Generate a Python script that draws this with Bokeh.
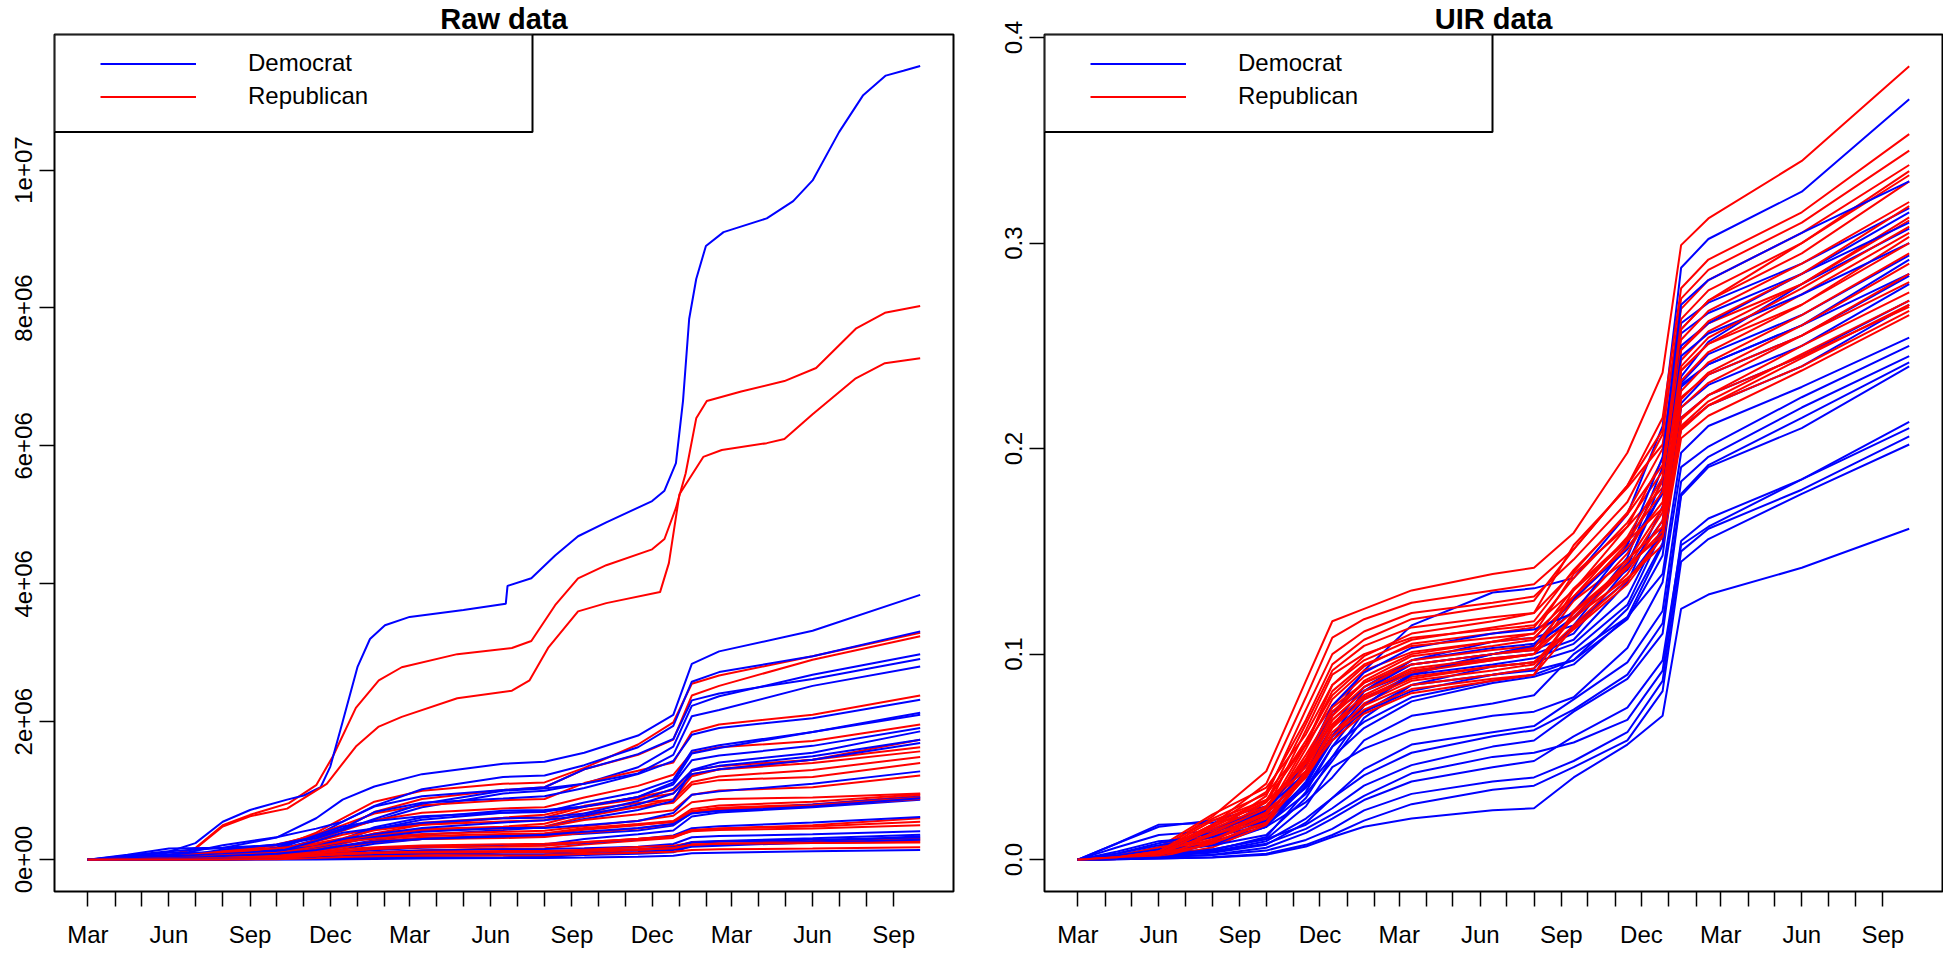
import numpy as np
import pandas as pd
from bokeh.plotting import figure
from bokeh.models import Range1d, FixedTicker, Legend, LegendItem, BoxAnnotation
from bokeh.layouts import row
from bokeh.embed import file_html
from bokeh.resources import INLINE

ORIGIN = "2020-03-01"
FONT = "Liberation Sans"
BLUE = "#0000FF"
RED = "#FF0000"

# ---------------- axis ticks ----------------
month_tick_dates = list(pd.date_range("2020-03-01", "2022-09-01", freq="MS").strftime("%Y-%m-%d"))
month_tick_labels = ["Mar", "", "", "Jun", "", "", "Sep", "", "", "Dec", "", "",
                     "Mar", "", "", "Jun", "", "", "Sep", "", "", "Dec", "", "",
                     "Mar", "", "", "Jun", "", "", "Sep"]
raw_y_ticks = [0, 2e6, 4e6, 6e6, 8e6, 1e7]
raw_y_labels = ["0e+00", "2e+06", "4e+06", "6e+06", "8e+06", "1e+07"]
uir_y_ticks = [0.0, 0.1, 0.2, 0.3, 0.4]
uir_y_labels = ["0.0", "0.1", "0.2", "0.3", "0.4"]

# common knot dates for most series
knot_dates = ["2020-03-01", "2020-04-15", "2020-06-01", "2020-08-01", "2020-10-01", "2020-11-15",
              "2020-12-15", "2021-01-20", "2021-03-15", "2021-06-15", "2021-08-01", "2021-09-15",
              "2021-11-15", "2021-12-25", "2022-01-15", "2022-02-15", "2022-06-01", "2022-10-01"]

# ---------------- Raw data (millions) ----------------
raw_dem_ca_dates = ["2020-03-01", "2020-04-15", "2020-06-01", "2020-07-01", "2020-08-01", "2020-09-01",
                    "2020-10-13", "2020-11-01", "2020-11-20", "2020-12-01", "2020-12-15", "2021-01-01",
                    "2021-01-15", "2021-02-01", "2021-03-01", "2021-05-01", "2021-06-18", "2021-06-20",
                    "2021-07-17", "2021-08-13", "2021-09-08", "2021-10-10", "2021-12-01", "2021-12-15",
                    "2021-12-28", "2022-01-05", "2022-01-12", "2022-01-20", "2022-01-31", "2022-02-20",
                    "2022-04-10", "2022-05-10", "2022-06-01", "2022-07-01", "2022-07-28", "2022-08-23",
                    "2022-09-12", "2022-10-01"]
raw_dem_ca = [0, 0.025, 0.115, 0.24, 0.55, 0.72, 0.87, 0.93, 1.05, 1.35, 2.0, 2.8, 3.2, 3.4, 3.52,
              3.62, 3.71, 3.97, 4.08, 4.41, 4.69, 4.89, 5.2, 5.35, 5.75, 6.65, 7.84, 8.42, 8.9, 9.1,
              9.3, 9.55, 9.85, 10.55, 11.08, 11.37, 11.44, 11.51]

raw_rep_tx_dates = ["2020-03-01", "2020-06-01", "2020-07-01", "2020-08-01", "2020-09-01", "2020-10-15",
                    "2020-11-15", "2020-12-04", "2020-12-30", "2021-01-25", "2021-02-20", "2021-04-24",
                    "2021-06-25", "2021-07-17", "2021-08-13", "2021-09-08", "2021-10-10", "2021-12-01",
                    "2021-12-15", "2021-12-28", "2022-01-08", "2022-01-20", "2022-02-01", "2022-03-12",
                    "2022-04-30", "2022-06-05", "2022-07-20", "2022-08-22", "2022-10-01"]
raw_rep_tx = [0, 0.065, 0.17, 0.5, 0.65, 0.82, 1.08, 1.5, 2.2, 2.6, 2.79, 2.98, 3.07, 3.17, 3.69,
              4.08, 4.27, 4.5, 4.65, 5.1, 5.6, 6.4, 6.65, 6.79, 6.94, 7.13, 7.7, 7.93, 8.03]

raw_rep_fl_dates = ["2020-03-01", "2020-06-01", "2020-07-01", "2020-08-01", "2020-09-01", "2020-10-13",
                    "2020-11-27", "2020-12-30", "2021-01-25", "2021-02-20", "2021-04-24", "2021-06-25",
                    "2021-07-15", "2021-08-05", "2021-09-08", "2021-10-10", "2021-12-10", "2021-12-20",
                    "2022-01-01", "2022-01-28", "2022-02-18", "2022-04-10", "2022-04-30", "2022-06-01",
                    "2022-07-20", "2022-08-22", "2022-10-01"]
raw_rep_fl = [0, 0.057, 0.16, 0.48, 0.63, 0.74, 1.1, 1.64, 1.93, 2.07, 2.34, 2.45, 2.6, 3.07, 3.6,
              3.72, 3.88, 4.3, 5.3, 5.84, 5.94, 6.04, 6.1, 6.46, 6.98, 7.2, 7.27]

raw_dem_il = [0, 0.06, 0.12, 0.17, 0.32, 0.60, 0.87, 1.06, 1.24, 1.39, 1.42, 1.55, 1.80, 2.10, 2.84, 3.02, 3.32, 3.84]
raw_dem_pa = [0, 0.038, 0.075, 0.104, 0.176, 0.35, 0.55, 0.78, 1.02, 1.2, 1.22, 1.37, 1.63, 1.94, 2.58, 2.72, 2.95, 3.31]
raw_dem_mi = [0, 0.03, 0.06, 0.083, 0.14, 0.29, 0.45, 0.56, 0.76, 0.96, 1.0, 1.1, 1.34, 1.64, 2.23, 2.37, 2.68, 2.98]
raw_dem_ga = [0, 0.015, 0.05, 0.21, 0.325, 0.45, 0.55, 0.77, 0.92, 1.01, 1.05, 1.31, 1.53, 1.75, 2.31, 2.41, 2.62, 2.91]
raw_dem_nj = [0, 0.07, 0.16, 0.174, 0.21, 0.31, 0.43, 0.59, 0.81, 1.0, 1.03, 1.1, 1.25, 1.52, 2.08, 2.17, 2.52, 2.80]
raw_dem_az = [0, 0.006, 0.02, 0.146, 0.22, 0.33, 0.45, 0.69, 0.825, 0.886, 0.92, 1.04, 1.24, 1.43, 1.81, 1.91, 2.05, 2.32]
raw_dem_va = [0, 0.014, 0.045, 0.079, 0.147, 0.22, 0.28, 0.44, 0.58, 0.68, 0.69, 0.83, 0.98, 1.16, 1.58, 1.66, 1.85, 2.13]
raw_dem_ma = [0, 0.05, 0.1, 0.109, 0.134, 0.21, 0.3, 0.47, 0.61, 0.71, 0.72, 0.77, 0.91, 1.12, 1.54, 1.62, 1.85, 2.10]
raw_dem_wi = [0, 0.005, 0.018, 0.046, 0.148, 0.355, 0.48, 0.56, 0.63, 0.68, 0.7, 0.765, 0.91, 1.09, 1.44, 1.51, 1.65, 1.91]
raw_dem_wa = [0, 0.01, 0.02, 0.045, 0.091, 0.146, 0.2, 0.28, 0.36, 0.43, 0.47, 0.59, 0.72, 0.85, 1.3, 1.41, 1.55, 1.86]
raw_dem_mn = [0, 0.006, 0.025, 0.048, 0.109, 0.27, 0.39, 0.45, 0.53, 0.6, 0.61, 0.67, 0.85, 1.03, 1.29, 1.36, 1.5, 1.74]
raw_dem_co = [0, 0.01, 0.026, 0.04, 0.081, 0.196, 0.3, 0.37, 0.46, 0.54, 0.57, 0.64, 0.8, 0.96, 1.24, 1.31, 1.45, 1.69]
raw_dem_md = [0, 0.02, 0.05, 0.083, 0.124, 0.184, 0.25, 0.33, 0.405, 0.46, 0.46, 0.5, 0.56, 0.675, 0.94, 0.99, 1.1, 1.28]
raw_dem_ct = [0, 0.02, 0.042, 0.047, 0.061, 0.102, 0.15, 0.23, 0.3, 0.35, 0.35, 0.376, 0.423, 0.495, 0.68, 0.715, 0.8, 0.91]
raw_dem_or = [0, 0.0015, 0.004, 0.016, 0.034, 0.066, 0.1, 0.136, 0.173, 0.203, 0.22, 0.3, 0.368, 0.423, 0.626, 0.685, 0.76, 0.87]
raw_dem_nv = [0, 0.004, 0.009, 0.052, 0.084, 0.14, 0.2, 0.258, 0.3, 0.335, 0.36, 0.405, 0.458, 0.516, 0.67, 0.704, 0.77, 0.89]
raw_dem_nm = [0, 0.003, 0.008, 0.017, 0.034, 0.079, 0.12, 0.16, 0.186, 0.2, 0.21, 0.243, 0.3, 0.351, 0.456, 0.484, 0.54, 0.62]
raw_dem_ri = [0, 0.006, 0.015, 0.018, 0.027, 0.048, 0.07, 0.106, 0.134, 0.15, 0.155, 0.165, 0.187, 0.227, 0.325, 0.342, 0.37, 0.41]
raw_dem_nh = [0, 0.002, 0.005, 0.006, 0.0088, 0.0186, 0.03, 0.055, 0.081, 0.1, 0.1, 0.113, 0.148, 0.185, 0.255, 0.272, 0.31, 0.36]
raw_dem_hi = [0, 0.0005, 0.0007, 0.002, 0.012, 0.017, 0.02, 0.024, 0.03, 0.036, 0.043, 0.067, 0.085, 0.108, 0.2, 0.222, 0.26, 0.34]
raw_dem_de = [0, 0.004, 0.01, 0.014, 0.02, 0.032, 0.045, 0.067, 0.091, 0.11, 0.11, 0.13, 0.151, 0.178, 0.248, 0.262, 0.29, 0.32]
raw_dem_me = [0, 0.001, 0.0025, 0.0035, 0.005, 0.011, 0.018, 0.034, 0.052, 0.068, 0.07, 0.083, 0.112, 0.139, 0.188, 0.203, 0.25, 0.29]
raw_dem_vt = [0, 0.0006, 0.001, 0.0013, 0.0018, 0.0036, 0.006, 0.011, 0.018, 0.024, 0.025, 0.031, 0.043, 0.058, 0.093, 0.101, 0.12, 0.14]

raw_rep_oh = [0, 0.012, 0.035, 0.078, 0.165, 0.39, 0.6, 0.84, 1.0, 1.1, 1.12, 1.33, 1.67, 1.99, 2.55, 2.67, 2.95, 3.29]
raw_rep_nc = [0, 0.009, 0.028, 0.127, 0.22, 0.35, 0.45, 0.69, 0.88, 1.01, 1.05, 1.31, 1.52, 1.74, 2.38, 2.52, 2.9, 3.24]
raw_rep_tn = [0, 0.008, 0.024, 0.112, 0.204, 0.37, 0.5, 0.67, 0.79, 0.863, 0.88, 1.11, 1.29, 1.41, 1.85, 1.96, 2.1, 2.38]
raw_rep_in = [0, 0.011, 0.034, 0.061, 0.129, 0.28, 0.42, 0.57, 0.68, 0.743, 0.76, 0.9, 1.07, 1.23, 1.55, 1.63, 1.72, 1.96]
raw_rep_ky = [0, 0.003, 0.01, 0.03, 0.075, 0.158, 0.23, 0.34, 0.416, 0.463, 0.48, 0.623, 0.766, 0.874, 1.21, 1.31, 1.45, 1.74]
raw_rep_mo = [0, 0.004, 0.013, 0.055, 0.14, 0.264, 0.36, 0.446, 0.534, 0.608, 0.65, 0.78, 0.905, 1.01, 1.29, 1.356, 1.45, 1.63]
raw_rep_sc = [0, 0.004, 0.012, 0.088, 0.143, 0.202, 0.25, 0.38, 0.507, 0.6, 0.61, 0.766, 0.878, 0.96, 1.24, 1.306, 1.4, 1.57]
raw_rep_al = [0, 0.006, 0.018, 0.096, 0.157, 0.238, 0.31, 0.425, 0.506, 0.553, 0.57, 0.72, 0.822, 0.873, 1.125, 1.206, 1.3, 1.49]
raw_rep_la = [0, 0.02, 0.04, 0.117, 0.164, 0.216, 0.27, 0.378, 0.443, 0.478, 0.52, 0.67, 0.761, 0.824, 1.09, 1.153, 1.2, 1.4]
raw_rep_ok = [0, 0.002, 0.006, 0.038, 0.092, 0.174, 0.24, 0.355, 0.423, 0.453, 0.47, 0.574, 0.658, 0.716, 0.94, 1.003, 1.05, 1.22]
raw_rep_ut = [0, 0.003, 0.009, 0.034, 0.079, 0.173, 0.25, 0.322, 0.373, 0.403, 0.42, 0.485, 0.564, 0.636, 0.832, 0.881, 0.9, 0.96]
raw_rep_ar = [0, 0.002, 0.007, 0.044, 0.083, 0.142, 0.19, 0.269, 0.318, 0.346, 0.38, 0.458, 0.517, 0.56, 0.735, 0.784, 0.84, 0.95]
raw_rep_ms = [0, 0.006, 0.016, 0.064, 0.1, 0.144, 0.18, 0.252, 0.298, 0.323, 0.34, 0.444, 0.511, 0.544, 0.705, 0.753, 0.8, 0.93]
raw_rep_ks = [0, 0.003, 0.009, 0.025, 0.058, 0.125, 0.18, 0.259, 0.299, 0.313, 0.33, 0.389, 0.453, 0.516, 0.698, 0.743, 0.79, 0.9]
raw_rep_ia = [0, 0.006, 0.019, 0.043, 0.091, 0.19, 0.26, 0.303, 0.343, 0.372, 0.38, 0.432, 0.499, 0.557, 0.697, 0.733, 0.78, 0.88]
raw_rep_wv = [0, 0.001, 0.002, 0.006, 0.017, 0.039, 0.06, 0.103, 0.138, 0.161, 0.165, 0.22, 0.278, 0.315, 0.42, 0.453, 0.5, 0.6]
raw_rep_ne = [0, 0.004, 0.014, 0.024, 0.046, 0.1, 0.15, 0.179, 0.204, 0.222, 0.23, 0.256, 0.298, 0.338, 0.429, 0.452, 0.48, 0.55]
raw_rep_id = [0, 0.001, 0.003, 0.021, 0.043, 0.084, 0.12, 0.156, 0.179, 0.192, 0.2, 0.252, 0.302, 0.335, 0.412, 0.431, 0.45, 0.5]
raw_rep_mt = [0, 0.0003, 0.0005, 0.004, 0.018, 0.045, 0.07, 0.084, 0.099, 0.111, 0.115, 0.144, 0.182, 0.203, 0.245, 0.261, 0.27, 0.31]
raw_rep_ak = [0, 0.0002, 0.0004, 0.003, 0.01, 0.025, 0.04, 0.051, 0.062, 0.071, 0.075, 0.104, 0.137, 0.156, 0.205, 0.222, 0.25, 0.29]
raw_rep_sd = [0, 0.002, 0.005, 0.009, 0.025, 0.06, 0.09, 0.104, 0.116, 0.124, 0.125, 0.135, 0.151, 0.169, 0.218, 0.231, 0.24, 0.26]
raw_rep_nd = [0, 0.001, 0.0025, 0.007, 0.024, 0.06, 0.09, 0.097, 0.105, 0.11, 0.112, 0.124, 0.147, 0.166, 0.215, 0.231, 0.24, 0.25]
raw_rep_wy = [0, 0.0003, 0.0009, 0.002, 0.0073, 0.022, 0.038, 0.048, 0.056, 0.06, 0.063, 0.081, 0.101, 0.113, 0.141, 0.151, 0.16, 0.18]

# ---------------- UIR data (fraction) ----------------
uir_dem_01 = [0, 0.008, 0.016, 0.019, 0.026, 0.046, 0.07, 0.092, 0.114, 0.13, 0.132, 0.137, 0.168, 0.211, 0.288, 0.302, 0.325, 0.370]
uir_dem_02 = [0, 0.008, 0.017, 0.018, 0.023, 0.04, 0.06, 0.082, 0.097, 0.106, 0.108, 0.114, 0.147, 0.191, 0.261, 0.271, 0.29, 0.317]
uir_dem_03 = [0, 0.006, 0.012, 0.014, 0.019, 0.035, 0.055, 0.075, 0.091, 0.1, 0.102, 0.11, 0.142, 0.186, 0.256, 0.266, 0.285, 0.315]
uir_dem_04 = [0, 0.0015, 0.005, 0.014, 0.022, 0.043, 0.065, 0.084, 0.097, 0.103, 0.105, 0.121, 0.141, 0.165, 0.235, 0.252, 0.28, 0.307]
uir_dem_05 = [0, 0.002, 0.006, 0.009, 0.016, 0.036, 0.06, 0.078, 0.09, 0.095, 0.098, 0.105, 0.128, 0.162, 0.232, 0.246, 0.265, 0.294]
uir_dem_06 = [0, 0.0012, 0.004, 0.007, 0.019, 0.047, 0.072, 0.082, 0.091, 0.098, 0.1, 0.107, 0.135, 0.172, 0.231, 0.241, 0.26, 0.292]
uir_dem_07 = [0, 0.004, 0.009, 0.011, 0.017, 0.032, 0.048, 0.069, 0.085, 0.094, 0.096, 0.102, 0.124, 0.16, 0.23, 0.241, 0.26, 0.285]
uir_dem_08 = [0, 0.0006, 0.002, 0.012, 0.021, 0.035, 0.05, 0.072, 0.085, 0.09, 0.093, 0.114, 0.136, 0.159, 0.222, 0.236, 0.255, 0.284]
uir_dem_09 = [0, 0.0012, 0.004, 0.007, 0.016, 0.038, 0.06, 0.072, 0.082, 0.09, 0.092, 0.097, 0.117, 0.148, 0.215, 0.226, 0.245, 0.272]
uir_dem_10 = [0, 0.001, 0.003, 0.0045, 0.011, 0.033, 0.055, 0.067, 0.079, 0.087, 0.09, 0.097, 0.122, 0.154, 0.21, 0.221, 0.24, 0.270]
uir_dem_11 = [0, 0.0003, 0.001, 0.008, 0.016, 0.028, 0.04, 0.058, 0.07, 0.076, 0.08, 0.1, 0.118, 0.139, 0.198, 0.211, 0.23, 0.254]
uir_dem_12 = [0, 0.001, 0.003, 0.005, 0.010, 0.026, 0.045, 0.054, 0.063, 0.07, 0.072, 0.079, 0.103, 0.135, 0.191, 0.201, 0.225, 0.250]
uir_dem_13 = [0, 0.0006, 0.002, 0.0034, 0.0073, 0.018, 0.03, 0.041, 0.052, 0.06, 0.063, 0.073, 0.09, 0.115, 0.178, 0.192, 0.215, 0.242]
uir_dem_14 = [0, 0.0006, 0.002, 0.005, 0.01, 0.017, 0.025, 0.036, 0.046, 0.055, 0.058, 0.072, 0.088, 0.11, 0.177, 0.191, 0.21, 0.240]
uir_dem_15 = [0, 0.003, 0.008, 0.013, 0.024, 0.048, 0.075, 0.091, 0.103, 0.11, 0.112, 0.12, 0.153, 0.196, 0.27, 0.282, 0.305, 0.330]
uir_dem_16 = [0, 0.003, 0.007, 0.011, 0.019, 0.037, 0.058, 0.075, 0.09, 0.1, 0.104, 0.118, 0.144, 0.18, 0.25, 0.261, 0.285, 0.310]
uir_dem_17 = [0, 0.001, 0.003, 0.015, 0.025, 0.042, 0.06, 0.082, 0.095, 0.1, 0.104, 0.127, 0.151, 0.178, 0.245, 0.256, 0.275, 0.300]
uir_dem_18 = [0, 0.002, 0.005, 0.007, 0.012, 0.03, 0.05, 0.064, 0.077, 0.086, 0.089, 0.095, 0.118, 0.153, 0.22, 0.231, 0.25, 0.280]
uir_dem_19 = [0, 0.0003, 0.001, 0.0024, 0.0058, 0.013, 0.02, 0.029, 0.038, 0.045, 0.048, 0.06, 0.074, 0.097, 0.153, 0.162, 0.185, 0.213]
uir_dem_20 = [0, 0.0006, 0.002, 0.004, 0.0078, 0.015, 0.022, 0.031, 0.042, 0.05, 0.052, 0.057, 0.068, 0.092, 0.155, 0.166, 0.185, 0.210]
uir_dem_21 = [0, 0.0005, 0.0015, 0.0022, 0.0044, 0.0096, 0.015, 0.024, 0.032, 0.038, 0.04, 0.048, 0.062, 0.087, 0.15, 0.161, 0.18, 0.206]
uir_dem_22 = [0, 0.0002, 0.0005, 0.0012, 0.0029, 0.0072, 0.012, 0.019, 0.027, 0.034, 0.036, 0.045, 0.058, 0.082, 0.145, 0.156, 0.178, 0.202]
uir_dem_23 = [0, 0.0002, 0.0006, 0.001, 0.0024, 0.0064, 0.011, 0.016, 0.02, 0.024, 0.025, 0.04, 0.056, 0.07, 0.122, 0.129, 0.142, 0.161]
uir_dem_24 = [0, 0.0003, 0.001, 0.004, 0.009, 0.02, 0.03, 0.044, 0.056, 0.062, 0.065, 0.078, 0.096, 0.121, 0.184, 0.196, 0.22, 0.245]

uir_rep_01 = [0, 0.0015, 0.005, 0.021, 0.043, 0.087, 0.116, 0.122, 0.131, 0.139, 0.142, 0.159, 0.198, 0.237, 0.299, 0.312, 0.34, 0.386]
uir_rep_02 = [0, 0.001, 0.003, 0.017, 0.037, 0.079, 0.108, 0.117, 0.125, 0.131, 0.134, 0.151, 0.182, 0.215, 0.278, 0.292, 0.315, 0.353]
uir_rep_03 = [0, 0.0006, 0.002, 0.013, 0.031, 0.073, 0.1, 0.111, 0.12, 0.125, 0.128, 0.146, 0.174, 0.207, 0.273, 0.287, 0.31, 0.345]
uir_rep_04 = [0, 0.0012, 0.004, 0.017, 0.033, 0.068, 0.095, 0.107, 0.117, 0.123, 0.126, 0.151, 0.182, 0.209, 0.268, 0.282, 0.305, 0.338]
uir_rep_05 = [0, 0.001, 0.003, 0.012, 0.028, 0.066, 0.092, 0.104, 0.113, 0.118, 0.12, 0.14, 0.169, 0.2, 0.263, 0.277, 0.3, 0.335]
uir_rep_06 = [0, 0.002, 0.006, 0.022, 0.035, 0.061, 0.085, 0.099, 0.11, 0.116, 0.12, 0.153, 0.181, 0.202, 0.258, 0.272, 0.3, 0.333]
uir_rep_07 = [0, 0.0006, 0.002, 0.01, 0.024, 0.063, 0.09, 0.1, 0.108, 0.112, 0.114, 0.131, 0.162, 0.195, 0.258, 0.272, 0.295, 0.330]
uir_rep_08 = [0, 0.0012, 0.004, 0.016, 0.028, 0.058, 0.08, 0.094, 0.105, 0.11, 0.113, 0.137, 0.164, 0.189, 0.248, 0.261, 0.28, 0.3125]
uir_rep_09 = [0, 0.0006, 0.002, 0.009, 0.021, 0.054, 0.078, 0.092, 0.101, 0.106, 0.108, 0.126, 0.154, 0.184, 0.243, 0.257, 0.28, 0.311]
uir_rep_10 = [0, 0.0015, 0.005, 0.02, 0.032, 0.056, 0.075, 0.089, 0.1, 0.106, 0.11, 0.139, 0.162, 0.181, 0.238, 0.251, 0.275, 0.305]
uir_rep_11 = [0, 0.001, 0.003, 0.011, 0.022, 0.051, 0.072, 0.086, 0.097, 0.102, 0.104, 0.121, 0.149, 0.179, 0.238, 0.251, 0.27, 0.303]
uir_rep_12 = [0, 0.0006, 0.002, 0.008, 0.019, 0.047, 0.07, 0.084, 0.095, 0.1, 0.102, 0.117, 0.142, 0.169, 0.225, 0.236, 0.255, 0.281]
uir_rep_13 = [0, 0.0012, 0.004, 0.014, 0.025, 0.045, 0.068, 0.082, 0.092, 0.097, 0.1, 0.126, 0.146, 0.162, 0.215, 0.226, 0.245, 0.269]
uir_rep_14 = [0, 0.0003, 0.001, 0.006, 0.017, 0.041, 0.065, 0.079, 0.089, 0.094, 0.096, 0.112, 0.134, 0.157, 0.21, 0.221, 0.24, 0.267]
uir_rep_15 = [0, 0.001, 0.003, 0.013, 0.023, 0.041, 0.06, 0.076, 0.087, 0.092, 0.095, 0.118, 0.137, 0.153, 0.205, 0.216, 0.238, 0.265]
uir_rep_16 = [0, 0.0012, 0.004, 0.017, 0.029, 0.056, 0.085, 0.097, 0.107, 0.113, 0.116, 0.141, 0.168, 0.192, 0.253, 0.267, 0.29, 0.320]
uir_rep_17 = [0, 0.0003, 0.001, 0.009, 0.023, 0.056, 0.082, 0.095, 0.104, 0.108, 0.11, 0.128, 0.157, 0.186, 0.248, 0.262, 0.285, 0.318]
uir_rep_18 = [0, 0.0006, 0.002, 0.013, 0.025, 0.048, 0.07, 0.087, 0.099, 0.104, 0.107, 0.132, 0.156, 0.179, 0.24, 0.254, 0.278, 0.308]
uir_rep_19 = [0, 0.001, 0.003, 0.015, 0.026, 0.049, 0.074, 0.086, 0.095, 0.1, 0.103, 0.128, 0.152, 0.174, 0.233, 0.247, 0.27, 0.300]
uir_rep_20 = [0, 0.0006, 0.002, 0.008, 0.018, 0.043, 0.068, 0.082, 0.093, 0.098, 0.1, 0.118, 0.145, 0.171, 0.228, 0.242, 0.265, 0.295]
uir_rep_21 = [0, 0.0012, 0.004, 0.016, 0.028, 0.047, 0.066, 0.08, 0.091, 0.097, 0.1, 0.131, 0.155, 0.171, 0.224, 0.237, 0.26, 0.290]
uir_rep_22 = [0, 0.0003, 0.001, 0.008, 0.018, 0.041, 0.064, 0.078, 0.088, 0.094, 0.096, 0.114, 0.139, 0.165, 0.22, 0.232, 0.255, 0.285]
uir_rep_23 = [0, 0.001, 0.003, 0.012, 0.022, 0.042, 0.062, 0.075, 0.085, 0.09, 0.093, 0.12, 0.142, 0.16, 0.214, 0.226, 0.25, 0.276]
uir_rep_24 = [0, 0.0006, 0.002, 0.01, 0.02, 0.04, 0.06, 0.073, 0.083, 0.088, 0.09, 0.113, 0.136, 0.157, 0.211, 0.223, 0.246, 0.272]
uir_rep_25 = [0, 0.0012, 0.004, 0.019, 0.029, 0.043, 0.058, 0.071, 0.081, 0.087, 0.09, 0.121, 0.143, 0.158, 0.209, 0.221, 0.244, 0.270]


def days(dates):
    return np.asarray((pd.to_datetime(dates) - pd.Timestamp(ORIGIN)).days, dtype=float)


knot_x = days(knot_dates)
tick_x = [int(v) for v in days(month_tick_dates)]

raw_dem_series = [(days(raw_dem_ca_dates), raw_dem_ca)] + [(knot_x, s) for s in [
    raw_dem_il, raw_dem_pa, raw_dem_mi, raw_dem_ga, raw_dem_nj, raw_dem_az, raw_dem_va, raw_dem_ma,
    raw_dem_wi, raw_dem_wa, raw_dem_mn, raw_dem_co, raw_dem_md, raw_dem_ct, raw_dem_or, raw_dem_nv,
    raw_dem_nm, raw_dem_ri, raw_dem_nh, raw_dem_hi, raw_dem_de, raw_dem_me, raw_dem_vt]]
raw_rep_series = [(days(raw_rep_tx_dates), raw_rep_tx), (days(raw_rep_fl_dates), raw_rep_fl)] + [(knot_x, s) for s in [
    raw_rep_oh, raw_rep_nc, raw_rep_tn, raw_rep_in, raw_rep_ky, raw_rep_mo, raw_rep_sc, raw_rep_al,
    raw_rep_la, raw_rep_ok, raw_rep_ut, raw_rep_ar, raw_rep_ms, raw_rep_ks, raw_rep_ia, raw_rep_wv,
    raw_rep_ne, raw_rep_id, raw_rep_mt, raw_rep_ak, raw_rep_sd, raw_rep_nd, raw_rep_wy]]
uir_dem_series = [(knot_x, s) for s in [
    uir_dem_01, uir_dem_02, uir_dem_03, uir_dem_04, uir_dem_05, uir_dem_06, uir_dem_07, uir_dem_08,
    uir_dem_09, uir_dem_10, uir_dem_11, uir_dem_12, uir_dem_13, uir_dem_14, uir_dem_15, uir_dem_16,
    uir_dem_17, uir_dem_18, uir_dem_19, uir_dem_20, uir_dem_21, uir_dem_22, uir_dem_23, uir_dem_24]]
uir_rep_series = [(knot_x, s) for s in [
    uir_rep_01, uir_rep_02, uir_rep_03, uir_rep_04, uir_rep_05, uir_rep_06, uir_rep_07, uir_rep_08,
    uir_rep_09, uir_rep_10, uir_rep_11, uir_rep_12, uir_rep_13, uir_rep_14, uir_rep_15, uir_rep_16,
    uir_rep_17, uir_rep_18, uir_rep_19, uir_rep_20, uir_rep_21, uir_rep_22, uir_rep_23, uir_rep_24,
    uir_rep_25]]

for grp in (raw_dem_series, raw_rep_series, uir_dem_series, uir_rep_series):
    for k, (xs, ys) in enumerate(grp):
        if len(xs) != len(ys):
            raise ValueError("length mismatch in series %d: %d vs %d" % (k, len(xs), len(ys)))

# ---------------- layout ----------------
H = 950
TOP, BOTTOM = 33, 56
FRAME_H = H - TOP - BOTTOM
X0, X1 = -37.8, 981.8


def make_panel(title, dem, rep, scale, y0, y1, yticks, ylabels, left, frame_w, right, legend_w):
    p = figure(width=left + frame_w + right, height=H,
               x_range=Range1d(X0, X1), y_range=Range1d(y0, y1),
               output_backend="svg", toolbar_location=None,
               min_border_left=left, min_border_right=right,
               min_border_top=TOP, min_border_bottom=BOTTOM)
    p.title.text = title
    p.title.align = "center"
    p.title.text_font = FONT
    p.title.text_font_size = "29px"
    p.title.text_font_style = "bold"
    p.title.text_color = "black"
    p.title.standoff = 0
    p.title.offset = 0

    p.grid.visible = False
    p.background_fill_color = "white"
    p.border_fill_color = "white"
    p.outline_line_color = "black"
    p.outline_line_width = 2
    p.outline_line_alpha = 1

    xa = p.xaxis[0]
    xa.ticker = FixedTicker(ticks=tick_x)
    xa.major_label_overrides = {t: l for t, l in zip(tick_x, month_tick_labels)}
    ya = p.yaxis[0]
    ya.ticker = FixedTicker(ticks=yticks)
    ya.major_label_overrides = {t: l for t, l in zip(yticks, ylabels)}
    ya.major_label_orientation = "vertical"
    for ax, standoff in ((xa, 14), (ya, 7)):
        ax.axis_line_color = None
        ax.major_tick_out = 15
        ax.major_tick_in = 0
        ax.minor_tick_out = 0
        ax.minor_tick_in = 0
        ax.major_tick_line_color = "black"
        ax.major_tick_line_width = 1.5
        ax.major_label_text_font = FONT
        ax.major_label_text_font_size = "24px"
        ax.major_label_text_color = "black"
        ax.major_label_standoff = standoff

    r_dem = r_rep = None
    n = max(len(dem), len(rep))
    for i in range(n):
        if i < len(rep):
            xs, ys = rep[i]
            r = p.line(xs, np.asarray(ys) * scale, line_color=RED, line_width=2)
            r_rep = r_rep or r
        if i < len(dem):
            xs, ys = dem[i]
            r = p.line(xs, np.asarray(ys) * scale, line_color=BLUE, line_width=2)
            r_dem = r_dem or r

    box = BoxAnnotation(left=X0, right=X0 + legend_w / frame_w * (X1 - X0),
                        top=y1, bottom=y1 - 98.0 / FRAME_H * (y1 - y0),
                        fill_color="white", fill_alpha=1.0,
                        line_color="black", line_width=2, line_alpha=1.0)
    p.add_layout(box)
    legend = Legend(items=[LegendItem(label="Democrat", renderers=[r_dem]),
                           LegendItem(label="Republican", renderers=[r_rep])],
                    location=(46, FRAME_H - 16.5 - 66), orientation="vertical",
                    padding=0, spacing=0, margin=0,
                    glyph_width=96, glyph_height=33, label_height=33, label_standoff=52,
                    label_text_font=FONT, label_text_font_size="24px", label_text_color="black",
                    border_line_alpha=0, background_fill_alpha=0)
    p.add_layout(legend)
    return p


p1 = make_panel("Raw data", raw_dem_series, raw_rep_series, 1e6,
                -0.0462e7, 1.1966e7, raw_y_ticks, raw_y_labels, 54, 899, 41, 478)
p2 = make_panel("UIR data", uir_dem_series, uir_rep_series, 1.0,
                -0.0155, 0.4015, uir_y_ticks, uir_y_labels, 50, 898, 1, 448)

layout = row(p1, p2)
open("out.html", "w").write(file_html(layout, INLINE))
